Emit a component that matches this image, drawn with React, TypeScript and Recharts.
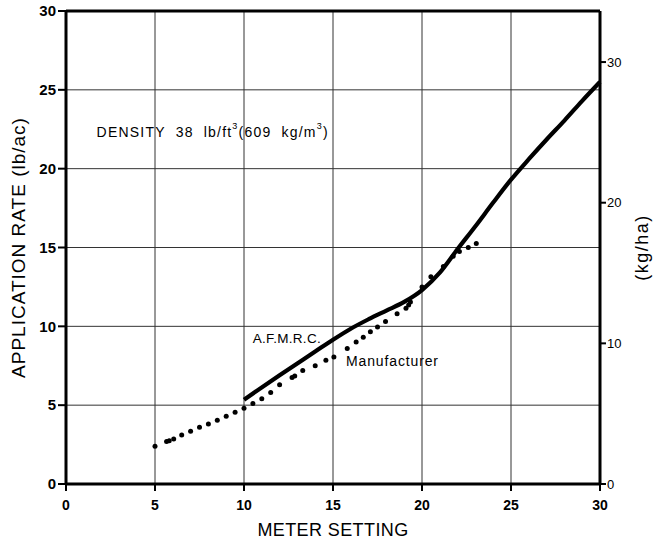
import {
  ComposedChart, Line, Scatter, XAxis, YAxis, CartesianGrid,
  ReferenceLine, ReferenceDot, Label,
} from 'recharts';

// A.F.M.R.C. calibration curve (meter setting -> lb/ac)
const afmrcSetting = [10, 12, 14, 15, 16, 17, 18, 19, 20, 21, 22, 23, 24, 25, 26, 27, 28, 29, 30];
const afmrcRate = [5.35, 6.9, 8.4, 9.15, 9.85, 10.45, 11.0, 11.55, 12.3, 13.4, 14.9, 16.35, 17.85, 19.3, 20.6, 21.85, 23.05, 24.3, 25.5];

// manufacturer's chart, read dot by dot
const mfrSetting = [
  5.0, 5.65, 5.8, 6.05, 6.5, 7.0, 7.5, 8.0, 8.5, 9.0, 9.5, 10.0, 10.5, 11.0, 11.5,
  12.0, 12.7, 12.85, 13.3, 14.0, 14.6, 15.05, 15.8, 16.3, 16.7, 17.1, 17.5, 17.95,
  18.6, 19.1, 19.25, 19.35, 20.0, 20.5, 21.2, 21.75, 22.1, 22.6, 23.05,
];
const mfrRate = [
  2.4, 2.7, 2.75, 2.85, 3.1, 3.35, 3.6, 3.8, 4.05, 4.3, 4.55, 4.8, 5.1, 5.4, 5.8,
  6.3, 6.75, 6.85, 7.2, 7.5, 7.85, 8.05, 8.6, 9.0, 9.3, 9.65, 9.95, 10.3,
  10.8, 11.15, 11.35, 11.55, 12.5, 13.15, 13.8, 14.45, 14.75, 15.0, 15.25,
];

const xTicks = [0, 5, 10, 15, 20, 25, 30];
const lbTicks = [0, 5, 10, 15, 20, 25, 30];
const kgTicks = [0, 10, 20, 30];
const LB_TO_KG = 1.121;

const afmrc = afmrcSetting.map((x, i) => ({ x, y: afmrcRate[i] }));
const mfr = mfrSetting.map((x, i) => ({ x, y: mfrRate[i] }));

const FONT = '"Liberation Sans", Arial, sans-serif';

const Dot = (props: { cx?: number; cy?: number }) => {
  const { cx = 0, cy = 0 } = props;
  return <circle cx={cx} cy={cy} r={2.5} fill="#000" />;
};

const note = (render: (x: number, y: number) => any) => (p: any) => {
  const vb = p.viewBox || {};
  return render(vb.x + (vb.width || 0) / 2, vb.y + (vb.height || 0) / 2);
};

export default function App() {
  return (
    <div style={{ position: 'absolute', left: 0, top: 0, background: '#fff' }}>
      <ComposedChart width={656} height={540} margin={{ top: 11, right: 0, bottom: 0, left: 0 }}>
        <CartesianGrid stroke="#333" strokeWidth={1} horizontalValues={[5, 10, 15, 20, 25]}
          verticalValues={[5, 10, 15, 20, 25]} yAxisId="lb" />
        <XAxis
          type="number" dataKey="x" domain={[0, 30]} ticks={xTicks} height={56}
          axisLine={{ stroke: '#000', strokeWidth: 3 }}
          tickLine={{ stroke: '#000', strokeWidth: 2 }} tickSize={7} tickMargin={9}
          tick={{ fill: '#000', fontSize: 14, fontFamily: FONT, fontWeight: 600 }}
          interval={0}
        >
          <Label content={note((x, y) => (
            <text x={x} y={y - 28 + 52} textAnchor="middle"
              style={{ fontSize: 18, fontFamily: FONT, fill: '#000', letterSpacing: 0.4 }}>
              METER SETTING
            </text>
          ))} />
        </XAxis>
        <YAxis
          yAxisId="lb" type="number" domain={[0, 30]} ticks={lbTicks} width={66}
          axisLine={{ stroke: '#000', strokeWidth: 3 }}
          tickLine={{ stroke: '#000', strokeWidth: 2 }} tickSize={8} tickMargin={2}
          tick={{ fill: '#000', fontSize: 15, fontFamily: FONT, fontWeight: 600 }}
          interval={0}
        >
          <Label content={note((x, y) => (
            <text x={18} y={y} textAnchor="middle" dominantBaseline="central"
              transform={`rotate(-90 18 ${y})`}
              style={{ fontSize: 19, fontFamily: FONT, fill: '#000', letterSpacing: 1 }}>
              APPLICATION RATE (lb/ac)
            </text>
          ))} />
        </YAxis>
        <YAxis
          yAxisId="kg" orientation="right" type="number" domain={[0, 30 * LB_TO_KG]}
          ticks={kgTicks} width={56} allowDataOverflow
          axisLine={{ stroke: '#000', strokeWidth: 3 }}
          tickLine={{ stroke: '#000', strokeWidth: 2 }} tickSize={6} tickMargin={1}
          tick={{ fill: '#000', fontSize: 13, fontFamily: FONT }}
          interval={0}
        >
          <Label content={note((x, y) => (
            <text x={642} y={y} textAnchor="middle" dominantBaseline="central"
              transform={`rotate(-90 642 ${y})`}
              style={{ fontSize: 18, fontFamily: FONT, fill: '#000', letterSpacing: 1.5 }}>
              (kg/ha)
            </text>
          ))} />
        </YAxis>

        <ReferenceLine yAxisId="lb" y={30} stroke="#000" strokeWidth={3} />

        <Line
          yAxisId="lb" data={afmrc} dataKey="y" type="monotone"
          stroke="#000" strokeWidth={4.2} dot={false} isAnimationActive={false}
        />
        <Scatter
          yAxisId="lb" data={mfr} dataKey="y" shape={<Dot />} isAnimationActive={false}
        />

        <ReferenceDot yAxisId="lb" x={1.72} y={22.34} r={0} label={note((x, y) => (
          <text x={x} y={y} dominantBaseline="central" textLength={231} lengthAdjust="spacing"
            style={{ fontSize: 14, fontFamily: FONT, fill: '#000', whiteSpace: 'pre' }}>
            DENSITY  38  lb/ft<tspan fontSize={9} dy={-6}>3</tspan>
            <tspan dy={6}>(609  kg/m</tspan><tspan fontSize={9} dy={-6}>3</tspan>
            <tspan dy={6}>)</tspan>
          </text>
        ))} />
        <ReferenceDot yAxisId="lb" x={10.49} y={9.26} r={0} label={note((x, y) => (
          <text x={x} y={y} dominantBaseline="central" textLength={68} lengthAdjust="spacing"
            style={{ fontSize: 13.5, fontFamily: FONT, fill: '#000' }}>
            A.F.M.R.C.
          </text>
        ))} />
        <ReferenceDot yAxisId="lb" x={15.73} y={7.77} r={0} label={note((x, y) => (
          <text x={x} y={y} dominantBaseline="central" textLength={92} lengthAdjust="spacing"
            style={{ fontSize: 14, fontFamily: FONT, fill: '#000' }}>
            Manufacturer
          </text>
        ))} />
      </ComposedChart>
    </div>
  );
}
